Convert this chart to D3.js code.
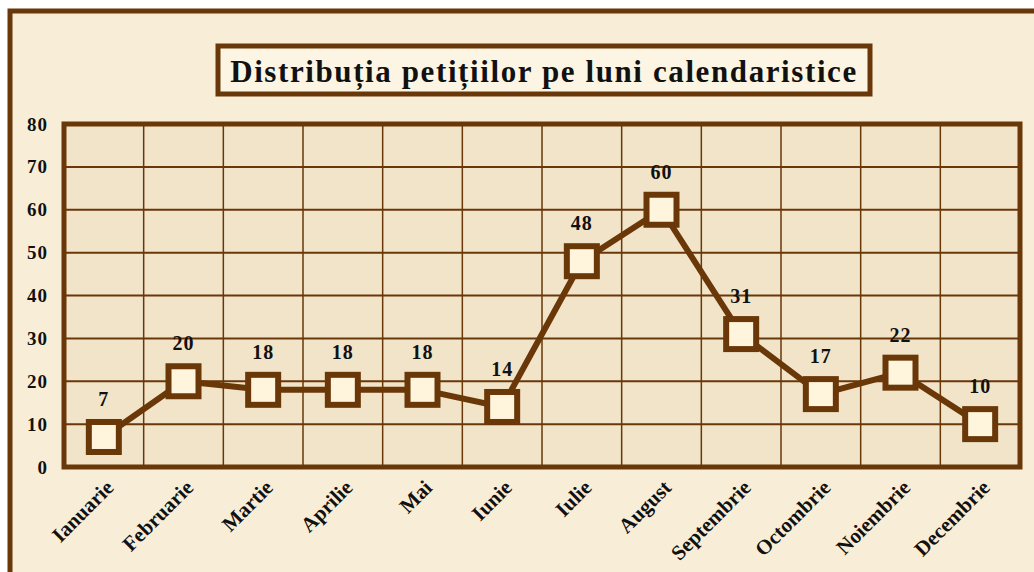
<!DOCTYPE html>
<html>
<head>
<meta charset="utf-8">
<script src="https://cdn.jsdelivr.net/npm/d3@7"></script>
<style>
  body { margin: 0; background: #ffffff; }
  text { font-family: "Liberation Serif", "Times New Roman", serif; font-weight: bold; fill: #111; }
</style>
</head>
<body>
<div id="chart"></div>
<script>
// chart size and plot margins
const width = 1034;
const height = 572;
const margin = {left: 64, right: 14, top: 124, bottom: 105};
const brown = "#693708";

// data
const months = ["Ianuarie", "Februarie", "Martie", "Aprilie", "Mai", "Iunie",
                "Iulie", "August", "Septembrie", "Octombrie", "Noiembrie", "Decembrie"];
const petitions = [7, 20, 18, 18, 18, 14, 48, 60, 31, 17, 22, 10];
const yTicks = [0, 10, 20, 30, 40, 50, 60, 70, 80];
const title = "Distribuția petițiilor pe luni calendaristice";

const svg = d3.select("#chart")
  .append("svg")
  .attr("width", width)
  .attr("height", height);

// parchment background + outer frame (cropped on right/bottom)
svg.append("rect")
  .attr("x", 10).attr("y", 11)
  .attr("width", width + 20).attr("height", height + 20)
  .attr("fill", "#f8eed8")
  .attr("stroke", brown)
  .attr("stroke-width", 5);

// scales
const xScale = d3.scaleBand()
  .domain(months)
  .range([margin.left, width - margin.right]);

const yScale = d3.scaleLinear()
  .domain([0, 80])
  .range([height - margin.bottom, margin.top]);

// plot area
svg.append("rect")
  .attr("x", margin.left)
  .attr("y", margin.top)
  .attr("width", width - margin.left - margin.right)
  .attr("height", height - margin.top - margin.bottom)
  .attr("fill", "#f2e4c8");

// horizontal grid lines
svg.append("g")
  .selectAll("line")
  .data(yTicks)
  .enter()
  .append("line")
    .attr("x1", margin.left)
    .attr("x2", width - margin.right)
    .attr("y1", d => yScale(d))
    .attr("y2", d => yScale(d))
    .attr("stroke", brown)
    .attr("stroke-width", 2);

// vertical grid lines at band edges
svg.append("g")
  .selectAll("line")
  .data(months)
  .enter()
  .append("line")
    .attr("x1", d => xScale(d))
    .attr("x2", d => xScale(d))
    .attr("y1", margin.top)
    .attr("y2", height - margin.bottom)
    .attr("stroke", brown)
    .attr("stroke-width", 1.5);

// plot border
svg.append("rect")
  .attr("x", margin.left)
  .attr("y", margin.top)
  .attr("width", width - margin.left - margin.right)
  .attr("height", height - margin.top - margin.bottom)
  .attr("fill", "none")
  .attr("stroke", brown)
  .attr("stroke-width", 5);

// y axis labels
const yAxis = svg.append("g")
  .attr("transform", `translate(${margin.left - 16},0)`)
  .call(d3.axisLeft(yScale).tickValues(yTicks).tickSize(0).tickPadding(0));
yAxis.select(".domain").remove();
yAxis.selectAll("text")
  .attr("font-size", "19px")
  .attr("letter-spacing", "1px")
  .attr("font-family", "Liberation Serif, serif")
  .attr("font-weight", "bold")
  .attr("fill", "#111");

// x axis labels, rotated
const xAxis = svg.append("g")
  .attr("transform", `translate(0,${height - margin.bottom})`)
  .call(d3.axisBottom(xScale).tickSize(0).tickPadding(0));
xAxis.select(".domain").remove();
xAxis.selectAll("text")
  .attr("font-size", "21px")
  .attr("font-family", "Liberation Serif, serif")
  .attr("font-weight", "bold")
  .attr("fill", "#111")
  .attr("text-anchor", "end")
  .attr("dy", 0)
  .attr("transform", "translate(11,22) rotate(-45)");

// line
const cx = d => xScale(d) + xScale.bandwidth() / 2;
const line = d3.line()
  .x((d, i) => cx(months[i]))
  .y(d => yScale(d));

svg.append("path")
  .datum(petitions)
  .attr("d", line)
  .attr("fill", "none")
  .attr("stroke", brown)
  .attr("stroke-width", 6)
  .attr("stroke-linejoin", "round");

// square markers
svg.selectAll(".marker")
  .data(petitions)
  .enter()
  .append("rect")
    .attr("class", "marker")
    .attr("x", (d, i) => cx(months[i]) - 15)
    .attr("y", d => yScale(d) - 15)
    .attr("width", 30)
    .attr("height", 30)
    .attr("fill", "#fff5dc")
    .attr("stroke", brown)
    .attr("stroke-width", 6);

// value labels
svg.selectAll(".val")
  .data(petitions)
  .enter()
  .append("text")
    .attr("class", "val")
    .attr("x", (d, i) => cx(months[i]))
    .attr("y", d => yScale(d) - 31)
    .attr("text-anchor", "middle")
    .attr("font-size", "20px")
    .attr("letter-spacing", "1px")
    .text(d => d);

// title box
const tg = svg.append("g");
tg.append("rect")
  .attr("x", 218).attr("y", 46)
  .attr("width", 652).attr("height", 48)
  .attr("fill", "#fdf5e3")
  .attr("stroke", brown)
  .attr("stroke-width", 5);
tg.append("text")
  .attr("x", 544).attr("y", 82)
  .attr("text-anchor", "middle")
  .attr("font-size", "31px")
  .attr("letter-spacing", "1.6px")
  .text(title);
</script>
</body>
</html>
